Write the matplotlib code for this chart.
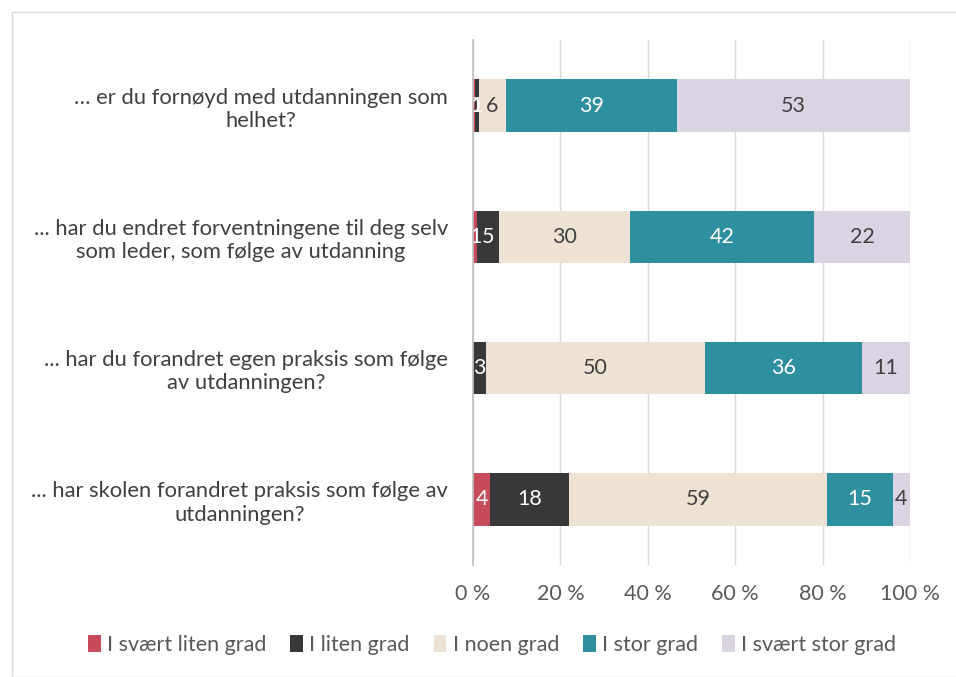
import matplotlib
matplotlib.use("Agg")
import matplotlib.pyplot as plt
import numpy as np
from matplotlib.patches import Rectangle

plt.rcParams['font.family'] = ['Lato', 'DejaVu Sans']

categories = [
    "… er du fornøyd med utdanningen som\nhelhet?",
    "... har du endret forventningene til deg selv\nsom leder, som følge av utdanning",
    "... har du forandret egen praksis som følge\nav utdanningen?",
    "... har skolen forandret praksis som følge av\nutdanningen?",
]
series = ["I svært liten grad", "I liten grad", "I noen grad", "I stor grad", "I svært stor grad"]
values = np.array([
    [0.4, 1, 6, 39, 53],
    [1, 5, 30, 42, 22],
    [0, 3, 50, 36, 11],
    [4, 18, 59, 15, 4],
], dtype=float)
colors = ["#C84B5C", "#383838", "#EDE2D3", "#2E8F9E", "#DAD3E1"]
label_colors = ["white", "white", "#404040", "white", "#404040"]
xticks = [0, 20, 40, 60, 80, 100]
xticklabels = ["0 %", "20 %", "40 %", "60 %", "80 %", "100 %"]

fig = plt.figure(figsize=(9.56, 6.77), dpi=100)
fig.patches.append(Rectangle((12/956, 0), 1, 1 - 12/677, transform=fig.transFigure,
                             fill=False, edgecolor="#D9D9D9", linewidth=1.0))
ax = fig.add_axes([473/956, 1 - 565/677, (910 - 473)/956, (565 - 40)/677])

pct = values / values.sum(axis=1, keepdims=True) * 100
y = np.arange(len(categories))
left = np.zeros(len(categories))
for j, s in enumerate(series):
    ax.barh(y, pct[:, j], left=left, height=0.4, color=colors[j], label=s, zorder=3)
    for i in range(len(categories)):
        if values[i, j] > 0:
            ax.text(left[i] + pct[i, j] / 2, y[i], f"{values[i, j]:.0f}", ha="center", va="center",
                    color=label_colors[j], fontsize=15.5, zorder=4)
    left += pct[:, j]

ax.set_xlim(0, 100)
ax.set_ylim(len(categories) - 0.5, -0.5)
ax.set_xticks(xticks)
ax.set_xticklabels(xticklabels, fontsize=15.5, color="#595959")
ax.set_yticks(y)
ax.set_yticklabels(categories, fontsize=15.8, color="#404040", multialignment="center")
ax.tick_params(axis="both", length=0)
ax.tick_params(axis="x", pad=14)
ax.tick_params(axis="y", pad=18)
ax.grid(axis="x", color="#D9D9D9", linewidth=1, zorder=0)
for sp in ["top", "right", "bottom"]:
    ax.spines[sp].set_visible(False)
ax.spines["left"].set_color("#BFBFBF")
ax.spines["left"].set_linewidth(1.2)
ax.spines["left"].set_zorder(5)

leg = fig.legend(loc="center", bbox_to_anchor=(492/956, 1 - 645/677), ncol=5, frameon=False,
                 fontsize=15.5, handlelength=0.6, handleheight=0.8, handletextpad=0.3,
                 columnspacing=1.1, labelcolor="#595959")

fig.savefig("out.png", dpi=100)
